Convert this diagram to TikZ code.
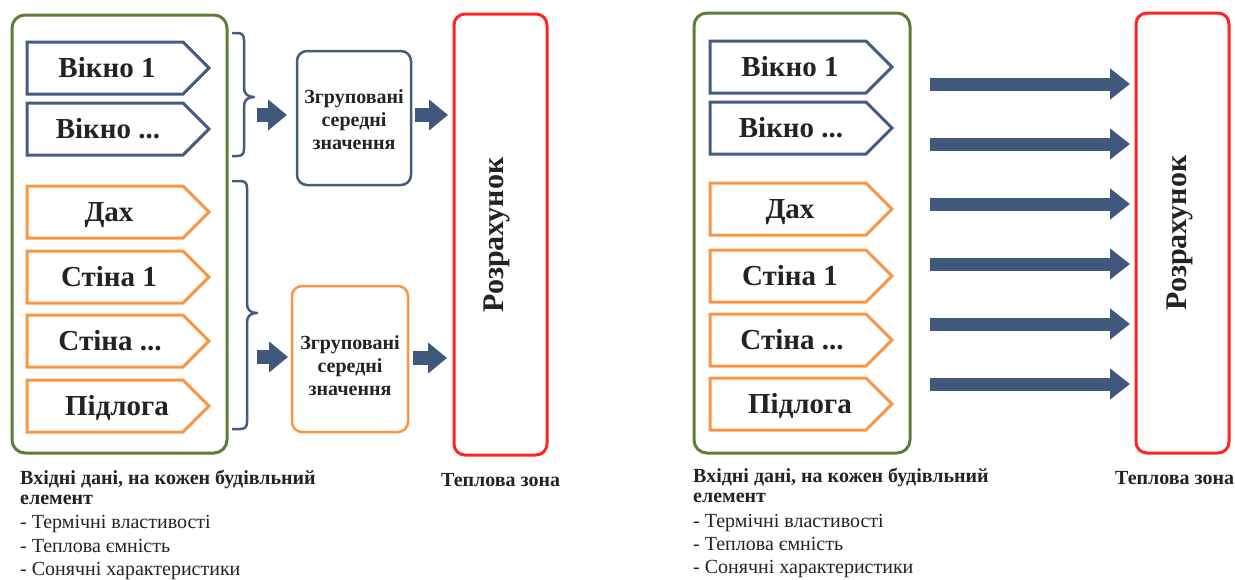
\documentclass[tikz,border=0pt]{standalone}
\usepackage{fontspec}
\setmainfont{Liberation Serif}
\usetikzlibrary{arrows.meta,calc}
\definecolor{cblue}{RGB}{67,92,128}
\definecolor{corange}{RGB}{247,150,70}
\definecolor{cgreen}{RGB}{95,125,55}
\definecolor{cred}{RGB}{255,35,35}
\definecolor{carrow}{RGB}{64,88,124}
\definecolor{ctext}{RGB}{35,35,35}
\newcommand{\elbox}[6]{%
  \draw[pentline, draw=#4] (#2,#3) -- ++(156,0) -- ++(26,26) -- ++(-26,26) -- ++(-156,0) -- cycle;
  \node[eltext] (#1) at (#2+78+#6, #3+35.5) {#5};
}
\begin{document}
\begin{tikzpicture}[x=1pt,y=-1pt,
  pentline/.style={line width=3pt, line join=miter},
  eltext/.style={anchor=base, font=\fontsize{29}{32}\selectfont\bfseries, text=ctext, inner sep=0},
  container/.style={draw=cgreen, line width=3pt, rounded corners=13pt, inner sep=0},
  calcbox/.style={draw=cred, line width=3pt, rounded corners=11pt, inner sep=0, minimum width=93pt},
  grpbox/.style={line width=2.5pt, rounded corners=10pt, inner sep=0},
  grptext/.style={align=center, font=\fontsize{20}{23}\selectfont\bfseries, text=ctext, inner sep=0},
  calctext/.style={rotate=90, font=\fontsize{30}{33}\selectfont\bfseries, text=ctext, inner sep=0},
  bigarrow/.style={draw=carrow, line width=13pt, -{Triangle[length=20pt, width=30pt]}},
  smallarrow/.style={draw=carrow, line width=14pt, -{Triangle[length=19pt, width=30pt]}},
  bracestyle/.style={draw=cblue, line width=2.5pt, line join=round},
  botbold/.style={anchor=base west, font=\fontsize{20}{24}\selectfont\bfseries, text=ctext, inner sep=0},
  botnorm/.style={anchor=base west, font=\fontsize{20}{24}\selectfont, text=ctext, inner sep=0},
]
\useasboundingbox (0,0) rectangle (1235,579);

% ---------------- left panel ----------------
\node[container, minimum width=215pt, minimum height=438pt] (gL) at (119.5,234) {};
\elbox{lw1}{27}{42}{cblue}{Вікно 1}{2}
\elbox{lw2}{27}{103}{cblue}{Вікно ...}{3}
\elbox{lroof}{27}{186}{corange}{Дах}{4}
\elbox{lwall1}{27}{251}{corange}{Стіна 1}{4}
\elbox{lwall2}{27}{315}{corange}{Стіна ...}{5}
\elbox{lfloor}{27}{380}{corange}{Підлога}{12}

% braces
\coordinate (b1tip) at (254,97);
\coordinate (b2tip) at (257,313);
\draw[bracestyle] (232,33) -- (237,33) .. controls (242,33) and (244,35) .. (244,40) -- (244,88)
   .. controls (244,94) and (248,97) .. (b1tip)
   .. controls (248,97) and (244,100) .. (244,106) -- (244,149)
   .. controls (244,154) and (242,156) .. (237,156) -- (232,156);
\draw[bracestyle] (232,181) -- (240,181) .. controls (245,181) and (247,183) .. (247,188) -- (247,304)
   .. controls (247,310) and (251,313) .. (b2tip)
   .. controls (251,313) and (247,316) .. (247,322) -- (247,422)
   .. controls (247,427) and (245,429) .. (240,429) -- (232,429);

\node[grpbox, draw=cblue, minimum width=114pt, minimum height=134pt] (g1) at (354,118) {};
\node[grptext] (g1t) at (354,119.5) {Згруповані\\середні\\значення};
\node[grpbox, draw=corange, minimum width=116pt, minimum height=146pt] (g2) at (350,359) {};
\node[grptext] (g2t) at (350,366) {Згруповані\\середні\\значення};

\node[calcbox, minimum height=441pt] (cL) at (500.5,234.5) {};
\node[calctext] (cLt) at (497,235) {Розрахунок};

\coordinate (s1a) at (257,115); \coordinate (s1b) at (287,115);
\coordinate (s2a) at (257,357); \coordinate (s2b) at (288,357);
\coordinate (s3a) at (415,115); \coordinate (s3b) at (448,115);
\coordinate (s4a) at (413,358); \coordinate (s4b) at (447,358);
\draw[smallarrow] (s1a) -- (s1b);
\draw[smallarrow] (s2a) -- (s2b);
\draw[smallarrow] (s3a) -- (s3b);
\draw[smallarrow] (s4a) -- (s4b);

\node[botbold] (lt1) at (20,484) {Вхідні дані, на кожен будівльний};
\node[botbold] (lt2) at (20,504) {елемент};
\node[botnorm] (lt3) at (20,528) {- Термічні властивості};
\node[botnorm] (lt4) at (20,552) {- Теплова ємність};
\node[botnorm] (lt5) at (20,575) {- Сонячні характеристики};
\node[botbold] (lzone) at (441,486) {Теплова зона};

% ---------------- right panel ----------------
\node[container, minimum width=216pt, minimum height=440pt] (gR) at (802,233) {};
\elbox{rw1}{710}{41}{cblue}{Вікно 1}{2}
\elbox{rw2}{710}{102}{cblue}{Вікно ...}{3}
\elbox{rroof}{710}{183}{corange}{Дах}{2}
\elbox{rwall1}{710}{250}{corange}{Стіна 1}{2}
\elbox{rwall2}{710}{314}{corange}{Стіна ...}{4}
\elbox{rfloor}{710}{378}{corange}{Підлога}{12}

\node[calcbox, minimum height=440pt] (cR) at (1182.5,233) {};
\node[calctext] (cRt) at (1180,233) {Розрахунок};

\foreach \i/\yy in {1/84,2/144,3/204,4/264,5/324,6/384} {
  \coordinate (ra\i) at (930,\yy);
  \coordinate (rb\i) at (1130,\yy);
  \draw[bigarrow] (ra\i) -- (rb\i);
}

\node[botbold] (rt1) at (693,482) {Вхідні дані, на кожен будівльний};
\node[botbold] (rt2) at (693,502) {елемент};
\node[botnorm] (rt3) at (693,527) {- Термічні властивості};
\node[botnorm] (rt4) at (693,550) {- Теплова ємність};
\node[botnorm] (rt5) at (693,573) {- Сонячні характеристики};
\node[botbold] (rzone) at (1115,484) {Теплова зона};
\end{tikzpicture}
\end{document}
